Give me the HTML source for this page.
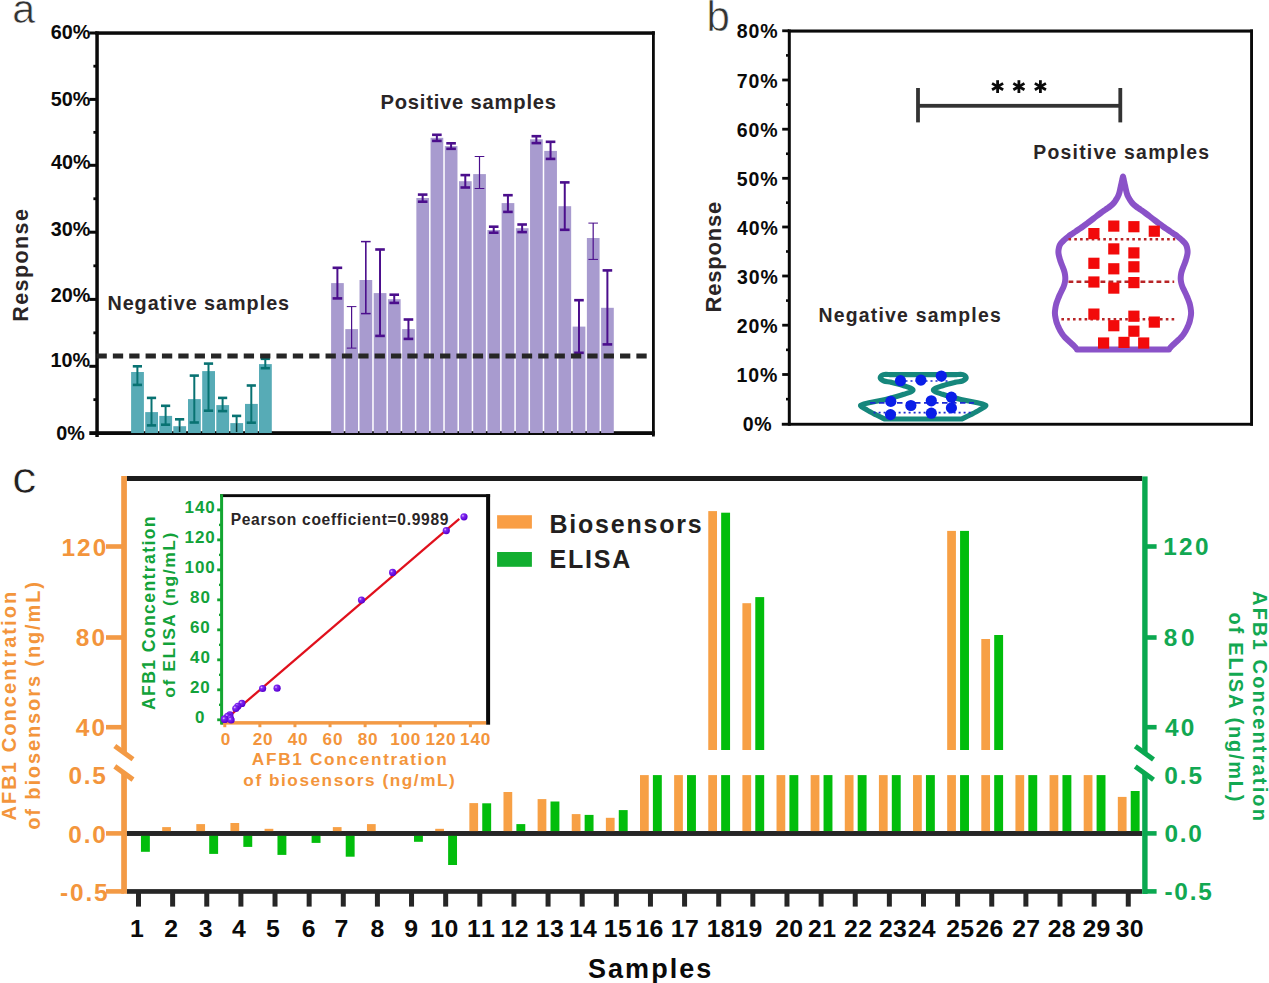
<!DOCTYPE html>
<html><head><meta charset="utf-8"><title>Figure</title><style>html,body{margin:0;padding:0;background:#fff;overflow:hidden;}svg{display:block;font-family:"Liberation Sans",sans-serif;}</style></head><body>
<svg width="1269" height="983" viewBox="0 0 1269 983" font-family='"Liberation Sans", sans-serif'><rect width="1269" height="983" fill="#fff"/><text x="12.26" y="23.2" font-size="41" fill="#333" font-weight="normal" stroke="#fff" stroke-width="0.6">a</text>
<rect x="95.3" y="31.5" width="3.5" height="405.5" fill="#0a0a0a"/>
<rect x="95.3" y="31.3" width="559.5" height="3.5" fill="#0a0a0a"/>
<rect x="652" y="31.3" width="2.8" height="405.2" fill="#0a0a0a"/>
<rect x="89.3" y="431.2" width="565.5" height="3.8" fill="#0a0a0a"/>
<rect x="89.3" y="364.8" width="7.7" height="3" fill="#0a0a0a"/>
<rect x="89.3" y="297.9" width="7.7" height="3" fill="#0a0a0a"/>
<rect x="89.3" y="230.7" width="7.7" height="3" fill="#0a0a0a"/>
<rect x="89.3" y="163.8" width="7.7" height="3" fill="#0a0a0a"/>
<rect x="89.3" y="97.9" width="7.7" height="3" fill="#0a0a0a"/>
<rect x="89.3" y="31.5" width="7.7" height="3" fill="#0a0a0a"/>
<rect x="93.4" y="398.25" width="3.6" height="2.8" fill="#0a0a0a"/>
<rect x="93.4" y="331.45" width="3.6" height="2.8" fill="#0a0a0a"/>
<rect x="93.4" y="264.4" width="3.6" height="2.8" fill="#0a0a0a"/>
<rect x="93.4" y="197.35" width="3.6" height="2.8" fill="#0a0a0a"/>
<rect x="93.4" y="130.95" width="3.6" height="2.8" fill="#0a0a0a"/>
<rect x="93.4" y="64.8" width="3.6" height="2.8" fill="#0a0a0a"/>
<text x="56.16 67.17" y="440" font-size="19.8" fill="#0a0a0a" font-weight="bold">0%</text>
<text x="50.42 61.43 72.45" y="367.3" font-size="19.8" fill="#0a0a0a" font-weight="bold">10%</text>
<text x="50.7 61.72 72.73" y="301.6" font-size="19.8" fill="#0a0a0a" font-weight="bold">20%</text>
<text x="50.82 61.83 72.84" y="235.6" font-size="19.8" fill="#0a0a0a" font-weight="bold">30%</text>
<text x="50.9 61.91 72.92" y="169.1" font-size="19.8" fill="#0a0a0a" font-weight="bold">40%</text>
<text x="50.74 61.75 72.77" y="105.6" font-size="19.8" fill="#0a0a0a" font-weight="bold">50%</text>
<text x="50.68 61.7 72.71" y="39" font-size="19.8" fill="#0a0a0a" font-weight="bold">60%</text>
<text x="208.46 225.39 238.75 252.11 266.65 281.18 295.72 309.08" y="0" font-size="21.5" fill="#2a2526" font-weight="bold" transform="translate(27.8,0) rotate(-90) translate(-530.2,0)">Response</text>
<rect x="131.1" y="372" width="12.8" height="61" fill="#57abb6"/>
<rect x="145.2" y="412.1" width="12.8" height="20.9" fill="#57abb6"/>
<rect x="159.3" y="415.9" width="12.8" height="17.1" fill="#57abb6"/>
<rect x="173.3" y="426.2" width="12.8" height="6.8" fill="#57abb6"/>
<rect x="188" y="399.1" width="12.8" height="33.9" fill="#57abb6"/>
<rect x="202.2" y="371.1" width="12.8" height="61.9" fill="#57abb6"/>
<rect x="216.3" y="405.1" width="12.8" height="27.9" fill="#57abb6"/>
<rect x="230.3" y="423.1" width="12.8" height="9.9" fill="#57abb6"/>
<rect x="245" y="403.9" width="12.8" height="29.1" fill="#57abb6"/>
<rect x="259" y="364.1" width="12.8" height="68.9" fill="#57abb6"/>
<line x1="137.4" y1="366.3" x2="137.4" y2="384.9" stroke="#087272" stroke-width="2"/>
<rect x="132.8" y="365" width="9.2" height="2.6" fill="#087272"/>
<rect x="132.8" y="383.6" width="9.2" height="2.6" fill="#087272"/>
<line x1="151.5" y1="397.9" x2="151.5" y2="425.4" stroke="#087272" stroke-width="2"/>
<rect x="146.9" y="396.6" width="9.2" height="2.6" fill="#087272"/>
<rect x="146.9" y="424.1" width="9.2" height="2.6" fill="#087272"/>
<line x1="165.6" y1="405.8" x2="165.6" y2="424.7" stroke="#087272" stroke-width="2"/>
<rect x="161" y="404.5" width="9.2" height="2.6" fill="#087272"/>
<rect x="161" y="423.4" width="9.2" height="2.6" fill="#087272"/>
<line x1="179.6" y1="419.3" x2="179.6" y2="426.2" stroke="#087272" stroke-width="2"/>
<line x1="179.6" y1="426.2" x2="179.6" y2="432" stroke="#073838" stroke-width="1.5"/>
<rect x="175" y="418" width="9.2" height="2.6" fill="#087272"/>
<line x1="194.3" y1="375.6" x2="194.3" y2="422.5" stroke="#087272" stroke-width="2"/>
<rect x="189.7" y="374.3" width="9.2" height="2.6" fill="#087272"/>
<rect x="189.7" y="421.2" width="9.2" height="2.6" fill="#087272"/>
<line x1="208.5" y1="363.6" x2="208.5" y2="410.7" stroke="#087272" stroke-width="2"/>
<rect x="203.9" y="362.3" width="9.2" height="2.6" fill="#087272"/>
<rect x="203.9" y="409.4" width="9.2" height="2.6" fill="#087272"/>
<line x1="222.6" y1="397.9" x2="222.6" y2="411.1" stroke="#087272" stroke-width="2"/>
<rect x="218" y="396.6" width="9.2" height="2.6" fill="#087272"/>
<rect x="218" y="409.8" width="9.2" height="2.6" fill="#087272"/>
<line x1="236.6" y1="415.9" x2="236.6" y2="423.1" stroke="#087272" stroke-width="2"/>
<line x1="236.6" y1="423.1" x2="236.6" y2="432" stroke="#073838" stroke-width="1.5"/>
<rect x="232" y="414.6" width="9.2" height="2.6" fill="#087272"/>
<line x1="251.3" y1="385.5" x2="251.3" y2="422.7" stroke="#087272" stroke-width="2"/>
<rect x="246.7" y="384.2" width="9.2" height="2.6" fill="#087272"/>
<rect x="246.7" y="421.4" width="9.2" height="2.6" fill="#087272"/>
<line x1="265.3" y1="358.8" x2="265.3" y2="368.2" stroke="#087272" stroke-width="2"/>
<rect x="260.7" y="357.5" width="9.2" height="2.6" fill="#087272"/>
<rect x="260.7" y="366.9" width="9.2" height="2.6" fill="#087272"/>
<rect x="331.1" y="283.1" width="12.7" height="149.9" fill="#a89bcf"/>
<rect x="345.31" y="329.1" width="12.7" height="103.9" fill="#a89bcf"/>
<rect x="359.52" y="280" width="12.7" height="153" fill="#a89bcf"/>
<rect x="373.73" y="293.1" width="12.7" height="139.9" fill="#a89bcf"/>
<rect x="387.94" y="299.2" width="12.7" height="133.8" fill="#a89bcf"/>
<rect x="402.15" y="329.1" width="12.7" height="103.9" fill="#a89bcf"/>
<rect x="416.36" y="198" width="12.7" height="235" fill="#a89bcf"/>
<rect x="430.57" y="137.8" width="12.7" height="295.2" fill="#a89bcf"/>
<rect x="444.78" y="146.1" width="12.7" height="286.9" fill="#a89bcf"/>
<rect x="458.99" y="181.2" width="12.7" height="251.8" fill="#a89bcf"/>
<rect x="473.2" y="174.1" width="12.7" height="258.9" fill="#a89bcf"/>
<rect x="487.41" y="230" width="12.7" height="203" fill="#a89bcf"/>
<rect x="501.62" y="203.1" width="12.7" height="229.9" fill="#a89bcf"/>
<rect x="515.83" y="228.2" width="12.7" height="204.8" fill="#a89bcf"/>
<rect x="530.04" y="139.3" width="12.7" height="293.7" fill="#a89bcf"/>
<rect x="544.25" y="150.9" width="12.7" height="282.1" fill="#a89bcf"/>
<rect x="558.46" y="206.2" width="12.7" height="226.8" fill="#a89bcf"/>
<rect x="572.67" y="326.6" width="12.7" height="106.4" fill="#a89bcf"/>
<rect x="586.88" y="238" width="12.7" height="195" fill="#a89bcf"/>
<rect x="601.09" y="307.8" width="12.7" height="125.2" fill="#a89bcf"/>
<line x1="337.4" y1="267.8" x2="337.4" y2="298.4" stroke="#4b0e8c" stroke-width="2"/>
<rect x="332.6" y="266.5" width="9.6" height="2.6" fill="#4b0e8c"/>
<rect x="332.6" y="297.1" width="9.6" height="2.6" fill="#4b0e8c"/>
<line x1="351.61" y1="306.6" x2="351.61" y2="348.1" stroke="#4b0e8c" stroke-width="1.2"/>
<rect x="346.81" y="306.1" width="9.6" height="1" fill="#4b0e8c"/>
<rect x="346.81" y="347.6" width="9.6" height="1" fill="#4b0e8c"/>
<line x1="365.82" y1="241.6" x2="365.82" y2="313.6" stroke="#4b0e8c" stroke-width="1.6"/>
<rect x="361.02" y="240.85" width="9.6" height="1.5" fill="#4b0e8c"/>
<rect x="361.02" y="312.85" width="9.6" height="1.5" fill="#4b0e8c"/>
<line x1="380.03" y1="249.5" x2="380.03" y2="335.9" stroke="#4b0e8c" stroke-width="2"/>
<rect x="375.23" y="248.2" width="9.6" height="2.6" fill="#4b0e8c"/>
<rect x="375.23" y="334.6" width="9.6" height="2.6" fill="#4b0e8c"/>
<line x1="394.24" y1="294.7" x2="394.24" y2="302.9" stroke="#4b0e8c" stroke-width="2"/>
<rect x="389.44" y="293.4" width="9.6" height="2.6" fill="#4b0e8c"/>
<rect x="389.44" y="301.6" width="9.6" height="2.6" fill="#4b0e8c"/>
<line x1="408.45" y1="319.5" x2="408.45" y2="338.9" stroke="#4b0e8c" stroke-width="2"/>
<rect x="403.65" y="318.2" width="9.6" height="2.6" fill="#4b0e8c"/>
<rect x="403.65" y="337.6" width="9.6" height="2.6" fill="#4b0e8c"/>
<line x1="422.66" y1="194.6" x2="422.66" y2="201.7" stroke="#4b0e8c" stroke-width="2"/>
<rect x="417.86" y="193.3" width="9.6" height="2.6" fill="#4b0e8c"/>
<rect x="417.86" y="200.4" width="9.6" height="2.6" fill="#4b0e8c"/>
<line x1="436.87" y1="134.8" x2="436.87" y2="140.9" stroke="#4b0e8c" stroke-width="2"/>
<rect x="432.07" y="133.5" width="9.6" height="2.6" fill="#4b0e8c"/>
<rect x="432.07" y="139.6" width="9.6" height="2.6" fill="#4b0e8c"/>
<line x1="451.08" y1="143.3" x2="451.08" y2="148.8" stroke="#4b0e8c" stroke-width="2"/>
<rect x="446.28" y="142" width="9.6" height="2.6" fill="#4b0e8c"/>
<rect x="446.28" y="147.5" width="9.6" height="2.6" fill="#4b0e8c"/>
<line x1="465.29" y1="175.1" x2="465.29" y2="187.5" stroke="#4b0e8c" stroke-width="2"/>
<rect x="460.49" y="173.8" width="9.6" height="2.6" fill="#4b0e8c"/>
<rect x="460.49" y="186.2" width="9.6" height="2.6" fill="#4b0e8c"/>
<line x1="479.5" y1="156.5" x2="479.5" y2="188.5" stroke="#4b0e8c" stroke-width="1.2"/>
<rect x="474.7" y="156" width="9.6" height="1" fill="#4b0e8c"/>
<rect x="474.7" y="188" width="9.6" height="1" fill="#4b0e8c"/>
<line x1="493.71" y1="226.7" x2="493.71" y2="232.7" stroke="#4b0e8c" stroke-width="2"/>
<rect x="488.91" y="225.4" width="9.6" height="2.6" fill="#4b0e8c"/>
<rect x="488.91" y="231.4" width="9.6" height="2.6" fill="#4b0e8c"/>
<line x1="507.92" y1="195.2" x2="507.92" y2="211.9" stroke="#4b0e8c" stroke-width="2"/>
<rect x="503.12" y="193.9" width="9.6" height="2.6" fill="#4b0e8c"/>
<rect x="503.12" y="210.6" width="9.6" height="2.6" fill="#4b0e8c"/>
<line x1="522.13" y1="224.5" x2="522.13" y2="232.1" stroke="#4b0e8c" stroke-width="2"/>
<rect x="517.33" y="223.2" width="9.6" height="2.6" fill="#4b0e8c"/>
<rect x="517.33" y="230.8" width="9.6" height="2.6" fill="#4b0e8c"/>
<line x1="536.34" y1="136.2" x2="536.34" y2="143.1" stroke="#4b0e8c" stroke-width="2"/>
<rect x="531.54" y="134.9" width="9.6" height="2.6" fill="#4b0e8c"/>
<rect x="531.54" y="141.8" width="9.6" height="2.6" fill="#4b0e8c"/>
<line x1="550.55" y1="141.8" x2="550.55" y2="158.9" stroke="#4b0e8c" stroke-width="2"/>
<rect x="545.75" y="140.5" width="9.6" height="2.6" fill="#4b0e8c"/>
<rect x="545.75" y="157.6" width="9.6" height="2.6" fill="#4b0e8c"/>
<line x1="564.76" y1="182.4" x2="564.76" y2="229.8" stroke="#4b0e8c" stroke-width="2"/>
<rect x="559.96" y="181.1" width="9.6" height="2.6" fill="#4b0e8c"/>
<rect x="559.96" y="228.5" width="9.6" height="2.6" fill="#4b0e8c"/>
<line x1="578.97" y1="300.2" x2="578.97" y2="352.8" stroke="#4b0e8c" stroke-width="2"/>
<rect x="574.17" y="298.9" width="9.6" height="2.6" fill="#4b0e8c"/>
<rect x="574.17" y="351.5" width="9.6" height="2.6" fill="#4b0e8c"/>
<line x1="593.18" y1="223.1" x2="593.18" y2="259.4" stroke="#4b0e8c" stroke-width="1.2"/>
<rect x="588.38" y="222.6" width="9.6" height="1" fill="#4b0e8c"/>
<rect x="588.38" y="258.9" width="9.6" height="1" fill="#4b0e8c"/>
<line x1="607.39" y1="270.4" x2="607.39" y2="344.4" stroke="#4b0e8c" stroke-width="2"/>
<rect x="602.59" y="269.1" width="9.6" height="2.6" fill="#4b0e8c"/>
<rect x="602.59" y="343.1" width="9.6" height="2.6" fill="#4b0e8c"/>
<line x1="96.5" y1="356" x2="647" y2="356" stroke="#262626" stroke-width="5" stroke-dasharray="10.3 6.06"/>
<text x="107.38 122.64 134.61 147.67 159.65 167.2 173.67 185.64 197.62 204.08 216.06 228.03 246.6 259.66 266.13 278.1" y="309.9" font-size="19.8" fill="#2a2526" font-weight="bold">Negative samples</text>
<text x="380.45 394.7 407.81 419.83 426.21 433.72 440.11 452.12 464.13 470.52 482.53 494.54 513.28 526.39 532.78 544.79" y="109.4" font-size="20.2" fill="#2a2526" font-weight="bold">Positive samples</text>
<text x="706.49" y="31" font-size="42" fill="#333" font-weight="normal" stroke="#fff" stroke-width="0.6">b</text>
<rect x="787.8" y="29.5" width="3" height="396.2" fill="#0a0a0a"/>
<rect x="787.8" y="29.5" width="465.2" height="3.1" fill="#0a0a0a"/>
<rect x="1250.1" y="29.5" width="2.9" height="396.2" fill="#0a0a0a"/>
<rect x="781.8" y="422.8" width="471.2" height="2.9" fill="#0a0a0a"/>
<rect x="782.2" y="373.1" width="6.8" height="2.8" fill="#0a0a0a"/>
<rect x="782.2" y="323.8" width="6.8" height="2.8" fill="#0a0a0a"/>
<rect x="782.2" y="274.6" width="6.8" height="2.8" fill="#0a0a0a"/>
<rect x="782.2" y="225.6" width="6.8" height="2.8" fill="#0a0a0a"/>
<rect x="782.2" y="176.9" width="6.8" height="2.8" fill="#0a0a0a"/>
<rect x="782.2" y="127.8" width="6.8" height="2.8" fill="#0a0a0a"/>
<rect x="782.2" y="78.6" width="6.8" height="2.8" fill="#0a0a0a"/>
<rect x="782.2" y="29.4" width="6.8" height="2.8" fill="#0a0a0a"/>
<rect x="786" y="397.85" width="3" height="2.6" fill="#0a0a0a"/>
<rect x="786" y="348.55" width="3" height="2.6" fill="#0a0a0a"/>
<rect x="786" y="299.3" width="3" height="2.6" fill="#0a0a0a"/>
<rect x="786" y="250.2" width="3" height="2.6" fill="#0a0a0a"/>
<rect x="786" y="201.35" width="3" height="2.6" fill="#0a0a0a"/>
<rect x="786" y="152.45" width="3" height="2.6" fill="#0a0a0a"/>
<rect x="786" y="103.3" width="3" height="2.6" fill="#0a0a0a"/>
<rect x="786" y="54.1" width="3" height="2.6" fill="#0a0a0a"/>
<text x="742.63 754.37" y="431.3" font-size="19.5" fill="#0a0a0a" font-weight="bold">0%</text>
<text x="736.53 748.27 760.02" y="382" font-size="19.5" fill="#0a0a0a" font-weight="bold">10%</text>
<text x="736.8 748.55 760.29" y="332.7" font-size="19.5" fill="#0a0a0a" font-weight="bold">20%</text>
<text x="736.92 748.66 760.41" y="283.5" font-size="19.5" fill="#0a0a0a" font-weight="bold">30%</text>
<text x="737 748.74 760.49" y="234.5" font-size="19.5" fill="#0a0a0a" font-weight="bold">40%</text>
<text x="736.84 748.59 760.33" y="185.8" font-size="19.5" fill="#0a0a0a" font-weight="bold">50%</text>
<text x="736.79 748.53 760.28" y="136.7" font-size="19.5" fill="#0a0a0a" font-weight="bold">60%</text>
<text x="736.72 748.47 760.21" y="87.5" font-size="19.5" fill="#0a0a0a" font-weight="bold">70%</text>
<text x="736.83 748.58 760.32" y="38.3" font-size="19.5" fill="#0a0a0a" font-weight="bold">80%</text>
<text x="201.13 217.8 230.82 243.83 258.06 272.28 286.5 299.52" y="0" font-size="22" fill="#2a2526" font-weight="bold" transform="translate(721.3,0) rotate(-90) translate(-513.6,0)">Response</text>
<rect x="916.1" y="88" width="3.8" height="34.4" fill="#333"/>
<rect x="1118.4" y="88" width="3.8" height="34.4" fill="#333"/>
<rect x="918" y="103.9" width="202.3" height="3.8" fill="#333"/>
<line x1="997.6" y1="80.2" x2="997.6" y2="93" stroke="#0a0a0a" stroke-width="2.8"/>
<line x1="992.06" y1="83.4" x2="1003.14" y2="89.8" stroke="#0a0a0a" stroke-width="2.8"/>
<line x1="1003.14" y1="83.4" x2="992.06" y2="89.8" stroke="#0a0a0a" stroke-width="2.8"/>
<line x1="1018.9" y1="80.2" x2="1018.9" y2="93" stroke="#0a0a0a" stroke-width="2.8"/>
<line x1="1013.36" y1="83.4" x2="1024.44" y2="89.8" stroke="#0a0a0a" stroke-width="2.8"/>
<line x1="1024.44" y1="83.4" x2="1013.36" y2="89.8" stroke="#0a0a0a" stroke-width="2.8"/>
<line x1="1040.4" y1="80.2" x2="1040.4" y2="93" stroke="#0a0a0a" stroke-width="2.8"/>
<line x1="1034.86" y1="83.4" x2="1045.94" y2="89.8" stroke="#0a0a0a" stroke-width="2.8"/>
<line x1="1045.94" y1="83.4" x2="1034.86" y2="89.8" stroke="#0a0a0a" stroke-width="2.8"/>
<text x="1033.3 1047.47 1060.54 1072.55 1079.17 1086.85 1093.46 1105.48 1117.49 1124.11 1136.12 1148.13 1166.61 1179.68 1186.29 1198.31" y="159" font-size="19.4" fill="#2a2526" font-weight="bold">Positive samples</text>
<text x="818.5 833.73 845.74 858.81 870.82 878.5 885.11 897.12 909.12 915.73 927.74 939.75 958.22 971.29 977.9 989.91" y="321.8" font-size="19.4" fill="#2a2526" font-weight="bold">Negative samples</text>
<path d="M1076.99,349.5 C1076.88,349.33 1076.76,349 1076.36,348.5 C1075.97,348 1075.27,347.17 1074.64,346.5 C1074.02,345.83 1073.29,345.17 1072.59,344.5 C1071.89,343.83 1071.16,343.17 1070.44,342.5 C1069.71,341.83 1068.97,341.17 1068.25,340.5 C1067.54,339.83 1066.8,339.17 1066.12,338.5 C1065.45,337.83 1064.79,337.17 1064.2,336.5 C1063.62,335.83 1063.1,335.17 1062.62,334.5 C1062.14,333.83 1061.73,333.17 1061.32,332.5 C1060.91,331.83 1060.53,331.17 1060.17,330.5 C1059.8,329.83 1059.47,329.17 1059.14,328.5 C1058.81,327.83 1058.51,327.17 1058.21,326.5 C1057.92,325.83 1057.63,325.17 1057.37,324.5 C1057.11,323.83 1056.86,323.17 1056.64,322.5 C1056.43,321.83 1056.25,321.17 1056.08,320.5 C1055.92,319.83 1055.78,319.17 1055.65,318.5 C1055.51,317.83 1055.38,317.17 1055.27,316.5 C1055.16,315.83 1055.05,315.17 1054.99,314.5 C1054.93,313.83 1054.9,313.17 1054.91,312.5 C1054.92,311.83 1054.99,311.17 1055.06,310.5 C1055.13,309.83 1055.23,309.17 1055.33,308.5 C1055.43,307.83 1055.54,307.17 1055.67,306.5 C1055.8,305.83 1055.93,305.17 1056.1,304.5 C1056.28,303.83 1056.48,303.17 1056.7,302.5 C1056.92,301.83 1057.17,301.17 1057.42,300.5 C1057.67,299.83 1057.93,299.17 1058.2,298.5 C1058.46,297.83 1058.73,297.17 1059.01,296.5 C1059.29,295.83 1059.58,295.17 1059.88,294.5 C1060.19,293.83 1060.51,293.17 1060.83,292.5 C1061.15,291.83 1061.49,291.17 1061.82,290.5 C1062.15,289.83 1062.49,289.17 1062.8,288.5 C1063.11,287.83 1063.41,287.17 1063.67,286.5 C1063.93,285.83 1064.16,285.17 1064.35,284.5 C1064.55,283.83 1064.7,283.17 1064.84,282.5 C1064.98,281.83 1065.1,281.17 1065.18,280.5 C1065.26,279.83 1065.31,279.17 1065.32,278.5 C1065.32,277.83 1065.28,277.17 1065.23,276.5 C1065.17,275.83 1065.08,275.17 1064.98,274.5 C1064.87,273.83 1064.75,273.17 1064.59,272.5 C1064.43,271.83 1064.23,271.17 1064.02,270.5 C1063.81,269.83 1063.55,269.17 1063.3,268.5 C1063.05,267.83 1062.79,267.17 1062.53,266.5 C1062.27,265.83 1062,265.17 1061.74,264.5 C1061.48,263.83 1061.22,263.17 1060.97,262.5 C1060.72,261.83 1060.48,261.17 1060.26,260.5 C1060.04,259.83 1059.84,259.17 1059.65,258.5 C1059.46,257.83 1059.29,257.17 1059.13,256.5 C1058.97,255.83 1058.8,255.17 1058.68,254.5 C1058.57,253.83 1058.46,253.17 1058.42,252.5 C1058.39,251.83 1058.41,251.17 1058.47,250.5 C1058.52,249.83 1058.64,249.17 1058.77,248.5 C1058.91,247.83 1059.05,247.17 1059.28,246.5 C1059.51,245.83 1059.75,245.17 1060.14,244.5 C1060.53,243.83 1061.04,243.17 1061.62,242.5 C1062.19,241.83 1062.91,241.17 1063.62,240.5 C1064.33,239.83 1065.09,239.17 1065.87,238.5 C1066.66,237.83 1067.46,237.17 1068.32,236.5 C1069.18,235.83 1070.09,235.17 1071.04,234.5 C1071.98,233.83 1073,233.17 1074.01,232.5 C1075.01,231.83 1076.06,231.17 1077.07,230.5 C1078.08,229.83 1079.1,229.17 1080.08,228.5 C1081.06,227.83 1082.02,227.17 1082.95,226.5 C1083.88,225.83 1084.77,225.17 1085.66,224.5 C1086.56,223.83 1087.43,223.17 1088.31,222.5 C1089.19,221.83 1090.07,221.17 1090.94,220.5 C1091.81,219.83 1092.68,219.17 1093.54,218.5 C1094.4,217.83 1095.26,217.17 1096.12,216.5 C1096.98,215.83 1097.84,215.17 1098.71,214.5 C1099.58,213.83 1100.45,213.17 1101.36,212.5 C1102.26,211.83 1103.19,211.17 1104.14,210.5 C1105.09,209.83 1106.1,209.17 1107.06,208.5 C1108.02,207.83 1109.03,207.17 1109.9,206.5 C1110.78,205.83 1111.62,205.17 1112.33,204.5 C1113.04,203.83 1113.61,203.17 1114.15,202.5 C1114.69,201.83 1115.12,201.17 1115.56,200.5 C1116,199.83 1116.42,199.17 1116.81,198.5 C1117.21,197.83 1117.6,197.17 1117.93,196.5 C1118.26,195.83 1118.55,195.17 1118.8,194.5 C1119.04,193.83 1119.22,193.17 1119.4,192.5 C1119.58,191.83 1119.72,191.17 1119.87,190.5 C1120.03,189.83 1120.17,189.17 1120.32,188.5 C1120.46,187.83 1120.61,187.17 1120.76,186.5 C1120.91,185.83 1121.06,185.17 1121.21,184.5 C1121.35,183.83 1121.5,183.17 1121.65,182.5 C1121.8,181.83 1121.95,181.17 1122.1,180.5 C1122.24,179.83 1122.35,179.17 1122.5,178.5 C1122.66,177.83 1122.83,176.5 1123,176.5 C1123.17,176.5 1123.34,177.83 1123.5,178.5 C1123.65,179.17 1123.76,179.83 1123.9,180.5 C1124.05,181.17 1124.2,181.83 1124.35,182.5 C1124.5,183.17 1124.65,183.83 1124.79,184.5 C1124.94,185.17 1125.09,185.83 1125.24,186.5 C1125.39,187.17 1125.54,187.83 1125.68,188.5 C1125.83,189.17 1125.97,189.83 1126.13,190.5 C1126.28,191.17 1126.42,191.83 1126.6,192.5 C1126.78,193.17 1126.96,193.83 1127.2,194.5 C1127.45,195.17 1127.74,195.83 1128.07,196.5 C1128.4,197.17 1128.79,197.83 1129.19,198.5 C1129.58,199.17 1130,199.83 1130.44,200.5 C1130.88,201.17 1131.31,201.83 1131.85,202.5 C1132.39,203.17 1132.96,203.83 1133.67,204.5 C1134.38,205.17 1135.22,205.83 1136.1,206.5 C1136.97,207.17 1137.98,207.83 1138.94,208.5 C1139.9,209.17 1140.91,209.83 1141.86,210.5 C1142.81,211.17 1143.74,211.83 1144.64,212.5 C1145.55,213.17 1146.42,213.83 1147.29,214.5 C1148.16,215.17 1149.02,215.83 1149.88,216.5 C1150.74,217.17 1151.6,217.83 1152.46,218.5 C1153.32,219.17 1154.19,219.83 1155.06,220.5 C1155.93,221.17 1156.81,221.83 1157.69,222.5 C1158.57,223.17 1159.44,223.83 1160.34,224.5 C1161.23,225.17 1162.12,225.83 1163.05,226.5 C1163.98,227.17 1164.94,227.83 1165.92,228.5 C1166.9,229.17 1167.92,229.83 1168.93,230.5 C1169.94,231.17 1170.99,231.83 1171.99,232.5 C1173,233.17 1174.02,233.83 1174.96,234.5 C1175.91,235.17 1176.82,235.83 1177.68,236.5 C1178.54,237.17 1179.34,237.83 1180.13,238.5 C1180.91,239.17 1181.67,239.83 1182.38,240.5 C1183.09,241.17 1183.81,241.83 1184.38,242.5 C1184.96,243.17 1185.47,243.83 1185.86,244.5 C1186.25,245.17 1186.49,245.83 1186.72,246.5 C1186.95,247.17 1187.09,247.83 1187.23,248.5 C1187.36,249.17 1187.48,249.83 1187.53,250.5 C1187.59,251.17 1187.61,251.83 1187.58,252.5 C1187.54,253.17 1187.43,253.83 1187.32,254.5 C1187.2,255.17 1187.03,255.83 1186.87,256.5 C1186.71,257.17 1186.54,257.83 1186.35,258.5 C1186.16,259.17 1185.96,259.83 1185.74,260.5 C1185.52,261.17 1185.28,261.83 1185.03,262.5 C1184.78,263.17 1184.52,263.83 1184.26,264.5 C1184,265.17 1183.73,265.83 1183.47,266.5 C1183.21,267.17 1182.95,267.83 1182.7,268.5 C1182.45,269.17 1182.19,269.83 1181.98,270.5 C1181.77,271.17 1181.57,271.83 1181.41,272.5 C1181.25,273.17 1181.13,273.83 1181.02,274.5 C1180.92,275.17 1180.83,275.83 1180.77,276.5 C1180.72,277.17 1180.68,277.83 1180.68,278.5 C1180.69,279.17 1180.74,279.83 1180.82,280.5 C1180.9,281.17 1181.02,281.83 1181.16,282.5 C1181.3,283.17 1181.45,283.83 1181.65,284.5 C1181.84,285.17 1182.07,285.83 1182.33,286.5 C1182.59,287.17 1182.89,287.83 1183.2,288.5 C1183.51,289.17 1183.85,289.83 1184.18,290.5 C1184.51,291.17 1184.85,291.83 1185.17,292.5 C1185.49,293.17 1185.81,293.83 1186.12,294.5 C1186.42,295.17 1186.71,295.83 1186.99,296.5 C1187.27,297.17 1187.54,297.83 1187.8,298.5 C1188.07,299.17 1188.33,299.83 1188.58,300.5 C1188.83,301.17 1189.08,301.83 1189.3,302.5 C1189.52,303.17 1189.72,303.83 1189.9,304.5 C1190.07,305.17 1190.2,305.83 1190.33,306.5 C1190.46,307.17 1190.57,307.83 1190.67,308.5 C1190.77,309.17 1190.87,309.83 1190.94,310.5 C1191.01,311.17 1191.08,311.83 1191.09,312.5 C1191.1,313.17 1191.07,313.83 1191.01,314.5 C1190.95,315.17 1190.84,315.83 1190.73,316.5 C1190.62,317.17 1190.49,317.83 1190.35,318.5 C1190.22,319.17 1190.08,319.83 1189.92,320.5 C1189.75,321.17 1189.57,321.83 1189.36,322.5 C1189.14,323.17 1188.89,323.83 1188.63,324.5 C1188.37,325.17 1188.08,325.83 1187.79,326.5 C1187.49,327.17 1187.19,327.83 1186.86,328.5 C1186.53,329.17 1186.2,329.83 1185.83,330.5 C1185.47,331.17 1185.09,331.83 1184.68,332.5 C1184.27,333.17 1183.86,333.83 1183.38,334.5 C1182.9,335.17 1182.38,335.83 1181.8,336.5 C1181.21,337.17 1180.55,337.83 1179.88,338.5 C1179.2,339.17 1178.46,339.83 1177.75,340.5 C1177.03,341.17 1176.29,341.83 1175.56,342.5 C1174.84,343.17 1174.11,343.83 1173.41,344.5 C1172.71,345.17 1171.98,345.83 1171.36,346.5 C1170.73,347.17 1170.03,348 1169.64,348.5 C1169.24,349 1169.12,349.33 1169.01,349.5 L1076.99,349.5 Z" fill="none" stroke="#8a52c8" stroke-width="6" stroke-linejoin="round" stroke-linecap="round"/>
<line x1="1068.5" y1="239.3" x2="1175.2" y2="239.3" stroke="#b82426" stroke-width="2.4" stroke-dasharray="2.6 3.2"/>
<line x1="1068.5" y1="281.8" x2="1174.2" y2="281.8" stroke="#b82426" stroke-width="2.6" stroke-dasharray="4.8 3.2"/>
<line x1="1061.4" y1="319.2" x2="1176.2" y2="319.2" stroke="#b82426" stroke-width="2.4" stroke-dasharray="2.6 3.2"/>
<rect x="1088.3" y="228" width="11.2" height="11.2" fill="#f20a0a"/>
<rect x="1108.2" y="220.5" width="11.2" height="11.2" fill="#f20a0a"/>
<rect x="1128.3" y="221.1" width="11.2" height="11.2" fill="#f20a0a"/>
<rect x="1148.7" y="225.6" width="11.2" height="11.2" fill="#f20a0a"/>
<rect x="1108.2" y="243.3" width="11.2" height="11.2" fill="#f20a0a"/>
<rect x="1128.3" y="247.3" width="11.2" height="11.2" fill="#f20a0a"/>
<rect x="1088.3" y="257.7" width="11.2" height="11.2" fill="#f20a0a"/>
<rect x="1108.2" y="263.2" width="11.2" height="11.2" fill="#f20a0a"/>
<rect x="1128.3" y="261.2" width="11.2" height="11.2" fill="#f20a0a"/>
<rect x="1088.3" y="276.4" width="11.2" height="11.2" fill="#f20a0a"/>
<rect x="1128.3" y="277" width="11.2" height="11.2" fill="#f20a0a"/>
<rect x="1108.2" y="282.5" width="11.2" height="11.2" fill="#f20a0a"/>
<rect x="1088.3" y="308.5" width="11.2" height="11.2" fill="#f20a0a"/>
<rect x="1128.3" y="310.6" width="11.2" height="11.2" fill="#f20a0a"/>
<rect x="1148.7" y="316.5" width="11.2" height="11.2" fill="#f20a0a"/>
<rect x="1108.2" y="320.1" width="11.2" height="11.2" fill="#f20a0a"/>
<rect x="1128.3" y="325.6" width="11.2" height="11.2" fill="#f20a0a"/>
<rect x="1098" y="337.4" width="11.2" height="11.2" fill="#f20a0a"/>
<rect x="1118.4" y="336.8" width="11.2" height="11.2" fill="#f20a0a"/>
<rect x="1138.1" y="337.4" width="11.2" height="11.2" fill="#f20a0a"/>
<path d="M890,374.6 L956.4,374.6 C957.48,374.6 961.27,374.07 962.9,374.6 C964.53,375.13 966.28,376.73 966.2,377.8 C966.12,378.87 964.3,380.23 962.4,381 C960.5,381.77 958.1,381.62 954.8,382.4 C951.5,383.18 946.17,384.43 942.6,385.7 C939.03,386.97 933.4,388.57 933.4,390 C933.4,391.43 938.02,392.72 942.6,394.3 C947.18,395.88 955.32,398.13 960.9,399.5 C966.48,400.87 971.95,401.53 976.1,402.5 C980.25,403.47 985.28,404.03 985.8,405.3 C986.32,406.57 981.83,408.48 979.2,410.1 C976.57,411.72 972.88,413.52 970,415 C967.12,416.48 963.25,418.33 961.9,419 L884.5,419 C883.15,418.33 879.28,416.48 876.4,415 C873.52,413.52 869.83,411.72 867.2,410.1 C864.57,408.48 860.08,406.57 860.6,405.3 C861.12,404.03 866.15,403.47 870.3,402.5 C874.45,401.53 879.92,400.87 885.5,399.5 C891.08,398.13 899.22,395.88 903.8,394.3 C908.38,392.72 913,391.43 913,390 C913,388.57 907.37,386.97 903.8,385.7 C900.23,384.43 894.9,383.18 891.6,382.4 C888.3,381.62 885.9,381.77 884,381 C882.1,380.23 880.28,378.87 880.2,377.8 C880.12,376.73 881.87,375.13 883.5,374.6 C885.13,374.07 888.92,374.6 890,374.6 Z" fill="none" stroke="#16877c" stroke-width="5.2" stroke-linejoin="round"/>
<line x1="905.5" y1="381" x2="948" y2="381" stroke="#1a2ad0" stroke-width="1.6" stroke-dasharray="2 3"/>
<line x1="870" y1="402.8" x2="974" y2="402.8" stroke="#1a2ad0" stroke-width="1.8" stroke-dasharray="5.5 3.5"/>
<line x1="873.6" y1="412.6" x2="970.6" y2="412.6" stroke="#1a2ad0" stroke-width="1.6" stroke-dasharray="2 3"/>
<circle cx="900.5" cy="380.7" r="5.6" fill="#0a1ee8"/>
<circle cx="920.9" cy="380.1" r="5.6" fill="#0a1ee8"/>
<circle cx="941.3" cy="376" r="5.6" fill="#0a1ee8"/>
<circle cx="890.8" cy="401.4" r="5.6" fill="#0a1ee8"/>
<circle cx="910.9" cy="405.5" r="5.6" fill="#0a1ee8"/>
<circle cx="931.3" cy="400.8" r="5.6" fill="#0a1ee8"/>
<circle cx="951.4" cy="397.2" r="5.6" fill="#0a1ee8"/>
<circle cx="951.4" cy="407.9" r="5.6" fill="#0a1ee8"/>
<circle cx="890.5" cy="414.6" r="5.6" fill="#0a1ee8"/>
<circle cx="931.3" cy="413.2" r="5.6" fill="#0a1ee8"/>
<text x="11.9" y="492.9" font-size="44" fill="#231f20" stroke="#fff" stroke-width="0.7" textLength="24.5" lengthAdjust="spacingAndGlyphs">c</text>
<rect x="126.7" y="476" width="1015.5" height="5" fill="#1c1c1c"/>
<rect x="126.7" y="831.1" width="1015.5" height="4.7" fill="#262626"/>
<rect x="126.7" y="889.1" width="1015.5" height="4.7" fill="#262626"/>
<rect x="136" y="893" width="5" height="13.6" fill="#262626"/>
<rect x="170.13" y="893" width="5" height="13.6" fill="#262626"/>
<rect x="204.26" y="893" width="5" height="13.6" fill="#262626"/>
<rect x="238.39" y="893" width="5" height="13.6" fill="#262626"/>
<rect x="272.52" y="893" width="5" height="13.6" fill="#262626"/>
<rect x="306.65" y="893" width="5" height="13.6" fill="#262626"/>
<rect x="340.78" y="893" width="5" height="13.6" fill="#262626"/>
<rect x="374.91" y="893" width="5" height="13.6" fill="#262626"/>
<rect x="409.04" y="893" width="5" height="13.6" fill="#262626"/>
<rect x="443.17" y="893" width="5" height="13.6" fill="#262626"/>
<rect x="477.3" y="893" width="5" height="13.6" fill="#262626"/>
<rect x="511.43" y="893" width="5" height="13.6" fill="#262626"/>
<rect x="545.56" y="893" width="5" height="13.6" fill="#262626"/>
<rect x="579.69" y="893" width="5" height="13.6" fill="#262626"/>
<rect x="613.82" y="893" width="5" height="13.6" fill="#262626"/>
<rect x="647.95" y="893" width="5" height="13.6" fill="#262626"/>
<rect x="682.08" y="893" width="5" height="13.6" fill="#262626"/>
<rect x="716.21" y="893" width="5" height="13.6" fill="#262626"/>
<rect x="750.34" y="893" width="5" height="13.6" fill="#262626"/>
<rect x="784.47" y="893" width="5" height="13.6" fill="#262626"/>
<rect x="818.6" y="893" width="5" height="13.6" fill="#262626"/>
<rect x="852.73" y="893" width="5" height="13.6" fill="#262626"/>
<rect x="886.86" y="893" width="5" height="13.6" fill="#262626"/>
<rect x="920.99" y="893" width="5" height="13.6" fill="#262626"/>
<rect x="955.12" y="893" width="5" height="13.6" fill="#262626"/>
<rect x="989.25" y="893" width="5" height="13.6" fill="#262626"/>
<rect x="1023.38" y="893" width="5" height="13.6" fill="#262626"/>
<rect x="1057.51" y="893" width="5" height="13.6" fill="#262626"/>
<rect x="1091.64" y="893" width="5" height="13.6" fill="#262626"/>
<rect x="1125.77" y="893" width="5" height="13.6" fill="#262626"/>
<rect x="162.18" y="827.1" width="8.75" height="6.4" fill="#f7a045"/>
<rect x="196.31" y="824.1" width="8.75" height="9.4" fill="#f7a045"/>
<rect x="230.44" y="823" width="8.75" height="10.5" fill="#f7a045"/>
<rect x="264.57" y="828.8" width="8.75" height="4.7" fill="#f7a045"/>
<rect x="332.83" y="827.1" width="8.75" height="6.4" fill="#f7a045"/>
<rect x="366.96" y="824.1" width="8.75" height="9.4" fill="#f7a045"/>
<rect x="435.22" y="828.8" width="8.75" height="4.7" fill="#f7a045"/>
<rect x="469.35" y="803.1" width="8.75" height="30.4" fill="#f7a045"/>
<rect x="503.48" y="792" width="8.75" height="41.5" fill="#f7a045"/>
<rect x="537.61" y="799.1" width="8.75" height="34.4" fill="#f7a045"/>
<rect x="571.74" y="814.1" width="8.75" height="19.4" fill="#f7a045"/>
<rect x="605.87" y="817.8" width="8.75" height="15.7" fill="#f7a045"/>
<rect x="1117.82" y="796.9" width="8.75" height="36.6" fill="#f7a045"/>
<rect x="640" y="775.1" width="8.75" height="58.4" fill="#f7a045"/>
<rect x="674.13" y="775.1" width="8.75" height="58.4" fill="#f7a045"/>
<rect x="708.26" y="775.1" width="8.75" height="58.4" fill="#f7a045"/>
<rect x="742.39" y="775.1" width="8.75" height="58.4" fill="#f7a045"/>
<rect x="776.52" y="775.1" width="8.75" height="58.4" fill="#f7a045"/>
<rect x="810.65" y="775.1" width="8.75" height="58.4" fill="#f7a045"/>
<rect x="844.78" y="775.1" width="8.75" height="58.4" fill="#f7a045"/>
<rect x="878.91" y="775.1" width="8.75" height="58.4" fill="#f7a045"/>
<rect x="913.04" y="775.1" width="8.75" height="58.4" fill="#f7a045"/>
<rect x="947.17" y="775.1" width="8.75" height="58.4" fill="#f7a045"/>
<rect x="981.3" y="775.1" width="8.75" height="58.4" fill="#f7a045"/>
<rect x="1015.43" y="775.1" width="8.75" height="58.4" fill="#f7a045"/>
<rect x="1049.56" y="775.1" width="8.75" height="58.4" fill="#f7a045"/>
<rect x="1083.69" y="775.1" width="8.75" height="58.4" fill="#f7a045"/>
<rect x="140.95" y="833.5" width="8.9" height="18.3" fill="#02bd0c"/>
<rect x="209.21" y="833.5" width="8.9" height="20.4" fill="#02bd0c"/>
<rect x="243.34" y="833.5" width="8.9" height="13.4" fill="#02bd0c"/>
<rect x="277.47" y="833.5" width="8.9" height="21.4" fill="#02bd0c"/>
<rect x="311.6" y="833.5" width="8.9" height="9.4" fill="#02bd0c"/>
<rect x="345.73" y="833.5" width="8.9" height="23.2" fill="#02bd0c"/>
<rect x="413.99" y="833.5" width="8.9" height="8.3" fill="#02bd0c"/>
<rect x="448.12" y="833.5" width="8.9" height="31.5" fill="#02bd0c"/>
<rect x="482.25" y="803.3" width="8.9" height="30.2" fill="#02bd0c"/>
<rect x="516.38" y="824.1" width="8.9" height="9.4" fill="#02bd0c"/>
<rect x="550.51" y="801.5" width="8.9" height="32" fill="#02bd0c"/>
<rect x="584.64" y="814.9" width="8.9" height="18.6" fill="#02bd0c"/>
<rect x="618.77" y="810.1" width="8.9" height="23.4" fill="#02bd0c"/>
<rect x="1130.72" y="791" width="8.9" height="42.5" fill="#02bd0c"/>
<rect x="652.9" y="775.1" width="8.9" height="58.4" fill="#02bd0c"/>
<rect x="687.03" y="775.1" width="8.9" height="58.4" fill="#02bd0c"/>
<rect x="721.16" y="775.1" width="8.9" height="58.4" fill="#02bd0c"/>
<rect x="755.29" y="775.1" width="8.9" height="58.4" fill="#02bd0c"/>
<rect x="789.42" y="775.1" width="8.9" height="58.4" fill="#02bd0c"/>
<rect x="823.55" y="775.1" width="8.9" height="58.4" fill="#02bd0c"/>
<rect x="857.68" y="775.1" width="8.9" height="58.4" fill="#02bd0c"/>
<rect x="891.81" y="775.1" width="8.9" height="58.4" fill="#02bd0c"/>
<rect x="925.94" y="775.1" width="8.9" height="58.4" fill="#02bd0c"/>
<rect x="960.07" y="775.1" width="8.9" height="58.4" fill="#02bd0c"/>
<rect x="994.2" y="775.1" width="8.9" height="58.4" fill="#02bd0c"/>
<rect x="1028.33" y="775.1" width="8.9" height="58.4" fill="#02bd0c"/>
<rect x="1062.46" y="775.1" width="8.9" height="58.4" fill="#02bd0c"/>
<rect x="1096.59" y="775.1" width="8.9" height="58.4" fill="#02bd0c"/>
<rect x="708.26" y="511.1" width="8.75" height="238.9" fill="#f7a045"/>
<rect x="742.39" y="603.2" width="8.75" height="146.8" fill="#f7a045"/>
<rect x="947.17" y="530.9" width="8.75" height="219.1" fill="#f7a045"/>
<rect x="981.3" y="639" width="8.75" height="111" fill="#f7a045"/>
<rect x="721.16" y="512.7" width="8.9" height="237.3" fill="#02bd0c"/>
<rect x="755.29" y="597.1" width="8.9" height="152.9" fill="#02bd0c"/>
<rect x="960.07" y="530.9" width="8.9" height="219.1" fill="#02bd0c"/>
<rect x="994.2" y="635" width="8.9" height="115" fill="#02bd0c"/>
<rect x="126.7" y="831.1" width="1015.5" height="4.7" fill="#262626"/>
<rect x="121.2" y="476" width="5.7" height="276.5" fill="#f39a45"/>
<rect x="121.2" y="773" width="5.7" height="120.8" fill="#f39a45"/>
<rect x="106" y="544.2" width="18" height="4.6" fill="#f39a45"/>
<rect x="106" y="635.2" width="18" height="4.6" fill="#f39a45"/>
<rect x="106" y="724.9" width="18" height="4.6" fill="#f39a45"/>
<rect x="106" y="831.1" width="18" height="4.6" fill="#f39a45"/>
<rect x="106" y="889.1" width="18" height="4.6" fill="#f39a45"/>
<line x1="114.8" y1="745.99" x2="133" y2="759.21" stroke="#f39a45" stroke-width="5"/>
<line x1="114.8" y1="766.39" x2="133" y2="779.61" stroke="#f39a45" stroke-width="5"/>
<rect x="1142.2" y="476.4" width="5.4" height="276.1" fill="#0aa850"/>
<rect x="1142.2" y="773" width="5.4" height="121" fill="#0aa850"/>
<rect x="1145" y="544.2" width="11.6" height="4.6" fill="#0aa850"/>
<rect x="1145" y="635.2" width="11.6" height="4.6" fill="#0aa850"/>
<rect x="1145" y="724.9" width="11.6" height="4.6" fill="#0aa850"/>
<rect x="1145" y="831.1" width="11.6" height="4.6" fill="#0aa850"/>
<rect x="1145" y="889.1" width="11.6" height="4.6" fill="#0aa850"/>
<line x1="1135.3" y1="746.29" x2="1153.5" y2="759.51" stroke="#0aa850" stroke-width="5"/>
<line x1="1135.3" y1="766.59" x2="1153.5" y2="779.81" stroke="#0aa850" stroke-width="5"/>
<text x="61.46 77.1 92.73" y="555.8" font-size="24.4" fill="#f3953c" font-weight="bold">120</text>
<text x="75.83 91.53" y="646.4" font-size="24.4" fill="#f3953c" font-weight="bold">80</text>
<text x="75.73 91.53" y="736.4" font-size="24.4" fill="#f3953c" font-weight="bold">40</text>
<text x="68.53 83.77 92.21" y="784.2" font-size="24.4" fill="#f3953c" font-weight="bold">0.5</text>
<text x="68.33 83.63 92.13" y="842.5" font-size="24.4" fill="#f3953c" font-weight="bold">0.0</text>
<text x="60.05 70 85.4 94.01" y="900.5" font-size="24.4" fill="#f3953c" font-weight="bold">-0.5</text>
<text x="1163.26 1179.1 1194.93" y="555.3" font-size="24.4" fill="#12a852" font-weight="bold">120</text>
<text x="1163.83 1181.03" y="646.2" font-size="24.4" fill="#12a852" font-weight="bold">80</text>
<text x="1164.93 1180.63" y="736" font-size="24.4" fill="#12a852" font-weight="bold">40</text>
<text x="1164.33 1179.82 1188.51" y="784.2" font-size="24.4" fill="#12a852" font-weight="bold">0.5</text>
<text x="1164.43 1179.68 1188.13" y="842" font-size="24.4" fill="#12a852" font-weight="bold">0.0</text>
<text x="1164.45 1174.33 1189.67 1198.21" y="900.2" font-size="24.4" fill="#12a852" font-weight="bold">-0.5</text>
<text x="129.97" y="936.6" font-size="24.8" fill="#0a0a0a" font-weight="bold">1</text>
<text x="164.37" y="936.6" font-size="24.8" fill="#0a0a0a" font-weight="bold">2</text>
<text x="198.67" y="936.6" font-size="24.8" fill="#0a0a0a" font-weight="bold">3</text>
<text x="232.08" y="936.6" font-size="24.8" fill="#0a0a0a" font-weight="bold">4</text>
<text x="266.07" y="936.6" font-size="24.8" fill="#0a0a0a" font-weight="bold">5</text>
<text x="301.7" y="936.6" font-size="24.8" fill="#0a0a0a" font-weight="bold">6</text>
<text x="334.42" y="936.6" font-size="24.8" fill="#0a0a0a" font-weight="bold">7</text>
<text x="370.59" y="936.6" font-size="24.8" fill="#0a0a0a" font-weight="bold">8</text>
<text x="404.13" y="936.6" font-size="24.8" fill="#0a0a0a" font-weight="bold">9</text>
<text x="430.28 444.38" y="936.6" font-size="24.8" fill="#0a0a0a" font-weight="bold">10</text>
<text x="467.02 481.11" y="936.6" font-size="24.8" fill="#0a0a0a" font-weight="bold">11</text>
<text x="500.57 514.67" y="936.6" font-size="24.8" fill="#0a0a0a" font-weight="bold">12</text>
<text x="535.82 549.92" y="936.6" font-size="24.8" fill="#0a0a0a" font-weight="bold">13</text>
<text x="568.94 583.04" y="936.6" font-size="24.8" fill="#0a0a0a" font-weight="bold">14</text>
<text x="603.82 617.91" y="936.6" font-size="24.8" fill="#0a0a0a" font-weight="bold">15</text>
<text x="635.42 649.52" y="936.6" font-size="24.8" fill="#0a0a0a" font-weight="bold">16</text>
<text x="670.82 684.91" y="936.6" font-size="24.8" fill="#0a0a0a" font-weight="bold">17</text>
<text x="706.66 720.75" y="936.6" font-size="24.8" fill="#0a0a0a" font-weight="bold">18</text>
<text x="734.44 748.53" y="936.6" font-size="24.8" fill="#0a0a0a" font-weight="bold">19</text>
<text x="775.24 789.33" y="936.6" font-size="24.8" fill="#0a0a0a" font-weight="bold">20</text>
<text x="808.07 822.17" y="936.6" font-size="24.8" fill="#0a0a0a" font-weight="bold">21</text>
<text x="844.12 858.22" y="936.6" font-size="24.8" fill="#0a0a0a" font-weight="bold">22</text>
<text x="878.88 892.97" y="936.6" font-size="24.8" fill="#0a0a0a" font-weight="bold">23</text>
<text x="907.69 921.79" y="936.6" font-size="24.8" fill="#0a0a0a" font-weight="bold">24</text>
<text x="946.17 960.27" y="936.6" font-size="24.8" fill="#0a0a0a" font-weight="bold">25</text>
<text x="975.48 989.57" y="936.6" font-size="24.8" fill="#0a0a0a" font-weight="bold">26</text>
<text x="1012.17 1026.27" y="936.6" font-size="24.8" fill="#0a0a0a" font-weight="bold">27</text>
<text x="1047.71 1061.8" y="936.6" font-size="24.8" fill="#0a0a0a" font-weight="bold">28</text>
<text x="1082.49 1096.58" y="936.6" font-size="24.8" fill="#0a0a0a" font-weight="bold">29</text>
<text x="1115.68 1129.77" y="936.6" font-size="24.8" fill="#0a0a0a" font-weight="bold">30</text>
<text x="588.02 608.07 625.12 651.17 669.7 679.24 696.29" y="977.6" font-size="27" fill="#0a0a0a" font-weight="bold">Samples</text>
<text x="-820.5 -803.97 -789.67 -773.15 -759.94 -752.3 -735.78 -721.48 -707.18 -693.97 -680.77 -666.47 -657.73 -647.86 -634.66 -625.91 -618.28 -603.98" y="0" font-size="20" fill="#f3953c" font-weight="bold" transform="translate(15.7,0) rotate(-90)">AFB1 Concentration</text>
<text x="-829.78 -815.68 -807.13 -799.68 -785.58 -778.13 -764.02 -751.01 -738 -723.89 -710.88 -696.78 -687.11 -674.09 -666.65 -658.1 -643.99 -629.89 -622.44 -602.77 -588.66" y="0" font-size="20" fill="#f3953c" font-weight="bold" transform="translate(39.9,0) rotate(-90)">of biosensors (ng/mL)</text>
<text x="591.1 607.69 622.06 638.65 651.92 659.62 676.21 690.57 704.94 718.21 731.48 745.84 754.65 764.58 777.85 786.66 794.36 808.72" y="0" font-size="20" fill="#12a852" font-weight="bold" transform="translate(1252.9,0) rotate(90)">AFB1 Concentration</text>
<text x="612.52 626.52 634.97 642.31 657.43 671.44 678.78 693.9 710.13 717.47 725.92 739.92 753.92 761.27 780.83 794.84" y="0" font-size="20" fill="#12a852" font-weight="bold" transform="translate(1229.1,0) rotate(90)">of ELISA (ng/mL)</text>
<rect x="497.1" y="515.2" width="34.8" height="13.4" fill="#f99e45"/>
<rect x="497.1" y="552" width="34.8" height="14.8" fill="#12ae30"/>
<text x="549.43 569.26 577.99 595.05 610.73 626.42 643.47 659.16 676.21 687.72" y="532.6" font-size="25" fill="#231f20" font-weight="bold">Biosensors</text>
<text x="549.43 567.91 584.98 593.73 612.2" y="568.3" font-size="25" fill="#231f20" font-weight="bold">ELISA</text>
<rect x="221.6" y="495.6" width="266.4" height="227.2" fill="#fff"/>
<line x1="224.1" y1="720.6" x2="459.3" y2="518.8" stroke="#e0101c" stroke-width="2.2"/>
<rect x="220.1" y="494.2" width="270" height="2.9" fill="#0a0a0a"/>
<rect x="486.1" y="494.2" width="4" height="230.5" fill="#0a0a0a"/>
<rect x="221" y="721.1" width="265.1" height="3.5" fill="#f39a45"/>
<rect x="220.1" y="494.2" width="3" height="230.4" fill="#14a632"/>
<rect x="217.2" y="718.4" width="4.4" height="2.8" fill="#14a632"/>
<rect x="217.2" y="688.41" width="4.4" height="2.8" fill="#14a632"/>
<rect x="217.2" y="658.43" width="4.4" height="2.8" fill="#14a632"/>
<rect x="217.2" y="628.44" width="4.4" height="2.8" fill="#14a632"/>
<rect x="217.2" y="598.46" width="4.4" height="2.8" fill="#14a632"/>
<rect x="217.2" y="568.47" width="4.4" height="2.8" fill="#14a632"/>
<rect x="217.2" y="538.48" width="4.4" height="2.8" fill="#14a632"/>
<rect x="217.2" y="508.5" width="4.4" height="2.8" fill="#14a632"/>
<rect x="219" y="703.61" width="2.6" height="2.4" fill="#14a632"/>
<rect x="219" y="673.62" width="2.6" height="2.4" fill="#14a632"/>
<rect x="219" y="643.63" width="2.6" height="2.4" fill="#14a632"/>
<rect x="219" y="613.65" width="2.6" height="2.4" fill="#14a632"/>
<rect x="219" y="583.66" width="2.6" height="2.4" fill="#14a632"/>
<rect x="219" y="553.68" width="2.6" height="2.4" fill="#14a632"/>
<rect x="219" y="523.69" width="2.6" height="2.4" fill="#14a632"/>
<rect x="223.3" y="724" width="3" height="3.2" fill="#f39a45"/>
<rect x="258.38" y="724" width="3" height="3.2" fill="#f39a45"/>
<rect x="293.46" y="724" width="3" height="3.2" fill="#f39a45"/>
<rect x="328.54" y="724" width="3" height="3.2" fill="#f39a45"/>
<rect x="363.62" y="724" width="3" height="3.2" fill="#f39a45"/>
<rect x="398.7" y="724" width="3" height="3.2" fill="#f39a45"/>
<rect x="433.78" y="724" width="3" height="3.2" fill="#f39a45"/>
<rect x="468.86" y="724" width="3" height="3.2" fill="#f39a45"/>
<text x="195.09" y="723.3" font-size="17" fill="#12a23a" font-weight="bold">0</text>
<text x="189.9 200.35" y="693.31" font-size="17" fill="#12a23a" font-weight="bold">20</text>
<text x="190.07 200.52" y="663.33" font-size="17" fill="#12a23a" font-weight="bold">40</text>
<text x="189.88 200.34" y="633.34" font-size="17" fill="#12a23a" font-weight="bold">60</text>
<text x="189.92 200.38" y="603.36" font-size="17" fill="#12a23a" font-weight="bold">80</text>
<text x="184.43 194.89 205.34" y="573.37" font-size="17" fill="#12a23a" font-weight="bold">100</text>
<text x="184.43 194.89 205.34" y="543.38" font-size="17" fill="#12a23a" font-weight="bold">120</text>
<text x="184.43 194.89 205.34" y="513.4" font-size="17" fill="#12a23a" font-weight="bold">140</text>
<text x="220.63" y="744.8" font-size="17.2" fill="#f3953c" font-weight="bold">0</text>
<text x="252.74 263" y="744.8" font-size="17.2" fill="#f3953c" font-weight="bold">20</text>
<text x="287.81 298.07" y="744.8" font-size="17.2" fill="#f3953c" font-weight="bold">40</text>
<text x="322.62 332.89" y="744.8" font-size="17.2" fill="#f3953c" font-weight="bold">60</text>
<text x="357.81 368.08" y="744.8" font-size="17.2" fill="#f3953c" font-weight="bold">80</text>
<text x="390.16 400.43 410.69" y="744.8" font-size="17.2" fill="#f3953c" font-weight="bold">100</text>
<text x="425.51 435.78 446.04" y="744.8" font-size="17.2" fill="#f3953c" font-weight="bold">120</text>
<text x="460.11 470.38 480.64" y="744.8" font-size="17.2" fill="#f3953c" font-weight="bold">140</text>
<defs><radialGradient id="pg" cx="0.35" cy="0.35" r="0.65"><stop offset="0" stop-color="#e6c4ff"/><stop offset="0.3" stop-color="#8028f2"/><stop offset="1" stop-color="#5800d0"/></radialGradient></defs>
<circle cx="464" cy="516.8" r="3.6" fill="url(#pg)"/>
<circle cx="446.3" cy="530.6" r="3.6" fill="url(#pg)"/>
<circle cx="392.6" cy="572.4" r="3.6" fill="url(#pg)"/>
<circle cx="361.5" cy="600" r="3.6" fill="url(#pg)"/>
<circle cx="262.6" cy="688.5" r="3.6" fill="url(#pg)"/>
<circle cx="277.1" cy="688.2" r="3.6" fill="url(#pg)"/>
<circle cx="241.9" cy="703.4" r="3.6" fill="url(#pg)"/>
<circle cx="237.8" cy="706.3" r="3.6" fill="url(#pg)"/>
<circle cx="235.8" cy="708.5" r="3.6" fill="url(#pg)"/>
<circle cx="229.9" cy="714.8" r="3.6" fill="url(#pg)"/>
<circle cx="227.6" cy="716.4" r="3.6" fill="url(#pg)"/>
<circle cx="230.5" cy="718.5" r="3.6" fill="url(#pg)"/>
<circle cx="224.4" cy="718.9" r="3.6" fill="url(#pg)"/>
<circle cx="224.8" cy="719.4" r="3.6" fill="url(#pg)"/>
<circle cx="231.1" cy="720" r="3.6" fill="url(#pg)"/>
<text x="230.66 241.74 251.1 260.46 267.22 276.58 286.79 297 302.02 311.38 321.59 330.95 336.83 342.71 347.73 357.09 362.1 371.46 381.68 387.55 397.35 406.71 411.72 421.08 430.44 439.8" y="524.5" font-size="15.6" fill="#2a2526" font-weight="bold">Pearson coefficient=0.9989</text>
<text x="251.87 265.98 278.17 292.27 303.52 309.98 324.09 336.28 348.47 359.72 370.97 383.16 390.57 398.95 410.2 417.61 424.07 436.26" y="764.8" font-size="17.2" fill="#f3953c" font-weight="bold">AFB1 Concentration</text>
<text x="243.33 255.38 262.65 268.97 281.01 287.33 299.38 310.49 321.6 333.64 344.75 356.8 365.03 376.14 382.46 389.73 401.78 413.83 420.15 436.98 449.03" y="785.6" font-size="17.2" fill="#f3953c" font-weight="bold">of biosensors (ng/mL)</text>
<text x="-710.04 -695.95 -683.81 -669.72 -658.55 -652.28 -638.19 -626.06 -613.92 -602.75 -591.58 -579.45 -572.21 -563.98 -552.81 -545.56 -539.29 -527.16" y="0" font-size="17.6" fill="#12a23a" font-weight="bold" transform="translate(155.2,0) rotate(-90)">AFB1 Concentration</text>
<text x="-697.68 -685.46 -678.08 -671.66 -658.46 -646.24 -639.82 -626.63 -612.47 -606.05 -598.66 -586.45 -574.23 -567.81 -550.75 -538.53" y="0" font-size="17.4" fill="#12a23a" font-weight="bold" transform="translate(174.9,0) rotate(-90)">of ELISA (ng/mL)</text></svg>
</body></html>
